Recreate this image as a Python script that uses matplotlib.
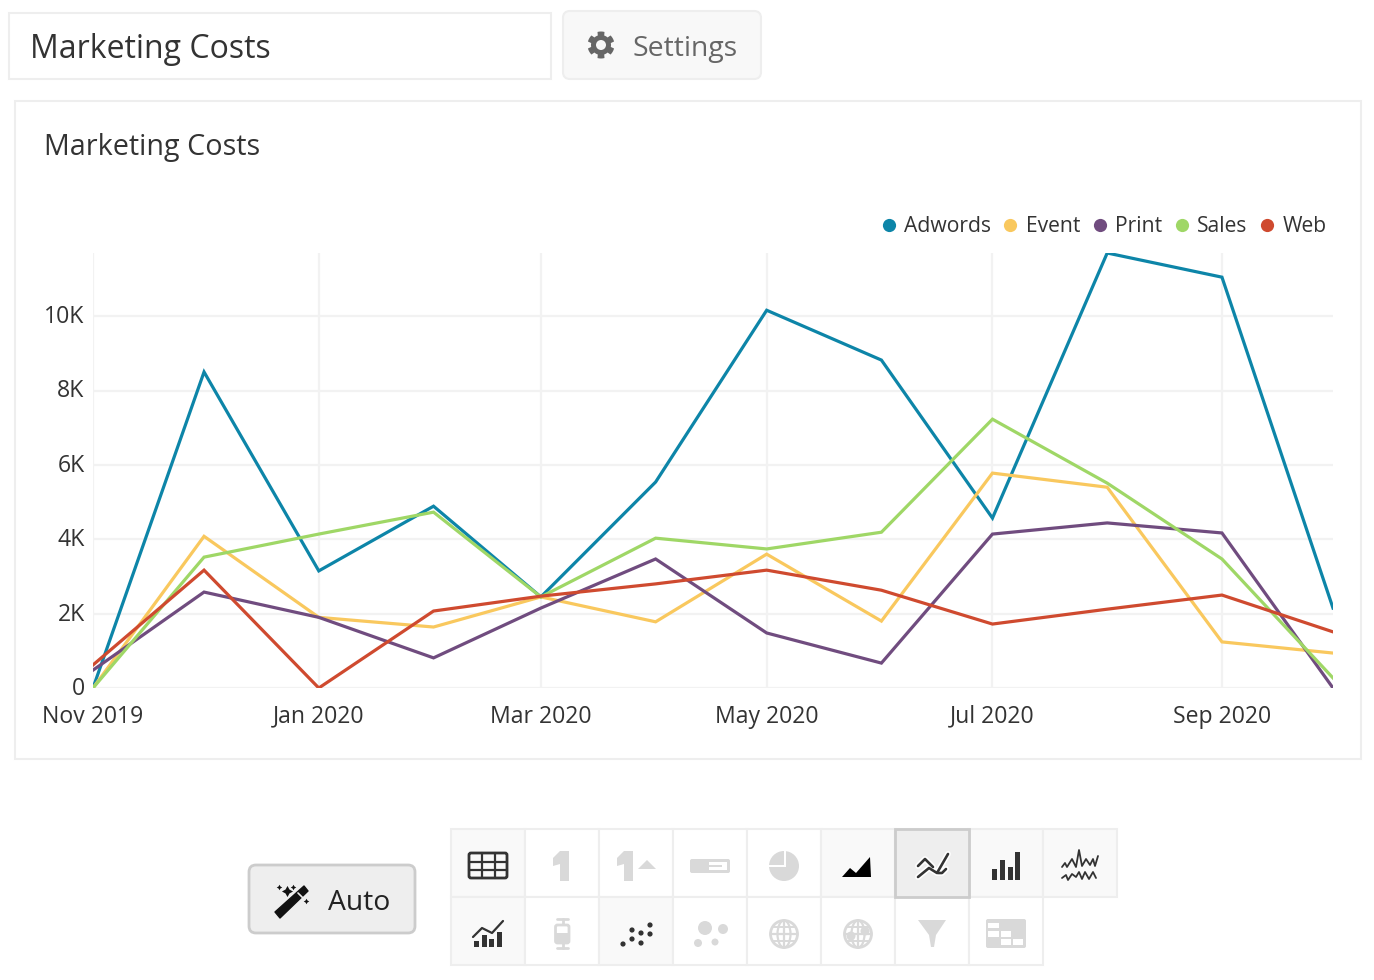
import numpy as np
import pandas as pd
import matplotlib
matplotlib.use("Agg")
import matplotlib.pyplot as plt
import matplotlib.dates as mdates
from matplotlib.lines import Line2D
from matplotlib.patches import Rectangle, FancyBboxPatch, Polygon, Circle, Ellipse
from matplotlib.ticker import FuncFormatter
from matplotlib.transforms import ScaledTranslation

plt.rcParams["font.family"] = ["Open Sans", "DejaVu Sans"]

# ---- DATA ----
months = pd.date_range("2019-11-01", "2020-10-01", freq="MS")
adwords = [0, 8500, 3150, 4890, 2450, 5540, 10160, 8820, 4570, 11700, 11050, 2150]
event = [0, 4080, 1900, 1640, 2450, 1780, 3600, 1800, 5780, 5400, 1240, 940]
printed = [480, 2580, 1900, 810, 2150, 3470, 1480, 670, 4140, 4440, 4170, 0]
sales = [0, 3520, 4140, 4730, 2450, 4030, 3740, 4190, 7230, 5510, 3470, 270]
web = [620, 3170, 0, 2070, 2470, 2800, 3170, 2630, 1720, 2120, 2500, 1510]
series_names = ["Adwords", "Event", "Print", "Sales", "Web"]
series_colors = ["#0d85a8", "#f9c85e", "#704c7f", "#9fd766", "#cf4a2f"]
y_ticks = [0, 2000, 4000, 6000, 8000, 10000]

W, H = 1374, 980
TEXT = "#333333"
BORDER = "#eeeeee"
ICON_ON = "#333333"
ICON_OFF = "#d9d9d9"

fig = plt.figure(figsize=(W / 100, H / 100), dpi=100, facecolor="white")

# ---- page furniture, in pixel coordinates ----
ui = fig.add_axes([0, 0, 1, 1], zorder=0)
ui.set_xlim(0, W)
ui.set_ylim(H, 0)
ui.axis("off")


def rounded(x0, y0, x1, y1, r, fc, ec, lw=1.5, z=2):
    ui.add_patch(FancyBboxPatch((x0 + r, y0 + r), x1 - x0 - 2 * r, y1 - y0 - 2 * r,
                                boxstyle=f"round,pad={r},rounding_size={r}",
                                fc=fc, ec=ec, lw=lw, zorder=z))


def rect(x0, y0, x1, y1, fc, ec="none", lw=0, z=2):
    ui.add_patch(Rectangle((x0, y0), x1 - x0, y1 - y0, fc=fc, ec=ec, lw=lw, zorder=z))


def stroke(xs, ys, color, lw=2.0, z=3):
    ui.plot(xs, ys, color=color, lw=lw, zorder=z, solid_capstyle="round",
            solid_joinstyle="round")


rect(9, 13, 551, 79, "white", BORDER, 1.5)
ui.text(30, 46, "Marketing Costs", fontsize=23, color=TEXT, va="center_baseline")

rounded(563, 11, 761, 79, 7, "#f8f8f8", BORDER)
ui.text(633, 45.5, "Settings", fontsize=20.4, color="#666666", va="center_baseline")
# gear
ang = np.linspace(0, 2 * np.pi, 97)[:-1]
rad = np.where(np.cos(6 * ang) > -0.1, 13.5, 10.0)
ui.add_patch(Polygon(np.c_[601 + rad * np.cos(ang + np.pi / 2), 45 + rad * np.sin(ang + np.pi / 2)],
                     fc="#666666", ec="none", zorder=3))
ui.add_patch(Circle((601, 45), 5, fc="#f8f8f8", ec="none", zorder=4))

rect(15, 101, 1361, 759, "white", BORDER, 1.5, z=1)
ui.text(44.5, 144, "Marketing Costs", fontsize=20.7, color=TEXT, va="center_baseline")

# Auto button
rounded(249, 865, 415, 933, 7, "#eeeeee", "#cccccc", 2)
ui.text(328, 899, "Auto", fontsize=20.3, color="#222222", va="center_baseline")
ui.add_patch(Polygon([(275, 912), (304, 886), (308, 891), (280, 918)], fc="#111111",
                     ec="#111111", lw=1, joinstyle="round", zorder=3))
stroke([298, 303], [893, 898], "#eeeeee", 1.2, 4)
for sx, sy, sz in [(287, 891, 8), (279, 887, 4), (293, 887, 4), (306, 901, 4)]:
    ui.plot(sx, sy, marker=(4, 1, 0), ms=sz, color="#111111", mew=0, zorder=3)

# chart type grid
cell_x = [451, 525, 599, 673, 747, 821, 895, 969, 1043, 1117]
cell_y = [829, 897, 965]
active = {(0, 0), (5, 0), (7, 0), (8, 0), (0, 1), (2, 1)}
for row, n_cells in enumerate([9, 8]):
    for col in range(n_cells):
        fc = "#f9f9f9" if (col, row) in active else "white"
        rect(cell_x[col], cell_y[row], cell_x[col + 1], cell_y[row + 1], fc, BORDER, 1.5, z=1)
rect(895, 829, 969, 897, "#eeeeee", "#cccccc", 2, z=1.5)

# table
rounded(469, 853, 507, 878, 2, "none", ICON_ON, 2)
for gx in [481.5, 494.5]:
    stroke([gx, gx], [853, 878], ICON_ON, 1.6)
for gy in [861.5, 869.5]:
    stroke([469, 507], [gy, gy], ICON_ON, 1.6)

# big number, number + trend
for dx in [0, 64]:
    ui.add_patch(Polygon([(560 + dx, 851), (569 + dx, 851), (569 + dx, 881), (560 + dx, 881),
                          (560 + dx, 864), (553 + dx, 866), (553 + dx, 858)], fc=ICON_OFF, zorder=3))
ui.add_patch(Polygon([(638, 869), (656, 869), (647, 860)], fc=ICON_OFF, zorder=3))

# gauge
rounded(690, 859, 730, 873, 2, ICON_OFF, "none", 0)
rect(709, 862, 727, 870, "white", z=3)
rect(709, 865, 722, 867, ICON_OFF, z=4)

# pie
ui.add_patch(Circle((784, 866), 15, fc=ICON_OFF, zorder=3))
rect(783.5, 850, 785.5, 866.5, "white", z=4)
rect(768, 864.5, 785.5, 866.5, "white", z=4)

# area
ui.add_patch(Polygon([(842, 877), (850, 868), (856, 873), (870, 857), (871, 877)],
                     fc="black", zorder=3))

# line
line_a = ([918, 925, 933], [866, 859, 867])
line_b = ([918, 929, 937, 948], [877, 868, 873, 854])
line_c = ([938, 942, 946], [873, 873, 869])
for xs, ys in [line_a, line_b, line_c]:
    stroke(xs, ys, "white", 4.2, 3)
for xs, ys in [line_a, line_b, line_c]:
    stroke(xs, ys, ICON_ON, 1.9, 4)

# bars
for bx, btop in [(992, 869), (1000, 860), (1008, 867), (1015, 852)]:
    rect(bx, btop, bx + 5, 880, ICON_ON, z=3)

# sparklines
stroke([1062, 1065, 1067, 1072, 1076, 1079, 1082, 1086, 1090, 1093, 1095, 1098],
       [867, 863, 867, 859, 867, 850, 866, 859, 865, 859, 866, 856], ICON_ON, 1.3)
stroke([1062, 1066, 1068, 1072, 1076, 1079, 1082, 1085, 1089, 1093, 1096],
       [878, 875, 880, 874, 877, 872, 879, 872, 879, 872, 878], ICON_ON, 1.3)

# combo
for bx, btop in [(474, 941), (482, 935), (489, 939), (497, 932)]:
    rect(bx, btop, bx + 5, 947, ICON_ON, z=3)
stroke([473, 482, 492, 503], [937, 928, 933, 921], ICON_ON, 1.6)

# box plot
stroke([557, 568], [919, 919], ICON_OFF, 2)
stroke([557, 568], [948, 948], ICON_OFF, 2)
stroke([562.5, 562.5], [919, 925], ICON_OFF, 2)
stroke([562.5, 562.5], [943, 948], ICON_OFF, 2)
rounded(555.5, 925, 569, 943, 2, "white", ICON_OFF, 2, z=3)
rect(555.5, 933, 569, 943, ICON_OFF, z=3.5)

# scatter
for px, py in [(623, 944), (632, 930), (632, 939), (641, 933), (641, 943), (650, 925), (650, 934)]:
    ui.add_patch(Circle((px, py), 2.6, fc=ICON_ON, zorder=3))

# bubble
for px, py, pr in [(705, 928, 7), (723, 929, 5), (698, 943, 4), (715, 942, 3.5)]:
    ui.add_patch(Circle((px, py), pr, fc=ICON_OFF, zorder=3))

# globes
for gx in [784, 858]:
    ui.add_patch(Circle((gx, 934), 13.5, fc="white", ec=ICON_OFF, lw=2, zorder=3))
    ui.add_patch(Ellipse((gx, 934), 13, 27, fc="none", ec=ICON_OFF, lw=1.6, zorder=3))
    stroke([gx, gx], [921, 947], ICON_OFF, 1.6)
    stroke([gx - 13, gx + 13], [934, 934], ICON_OFF, 1.6)
    stroke([gx - 11, gx + 11], [927, 927], ICON_OFF, 1.4)
    stroke([gx - 11, gx + 11], [941, 941], ICON_OFF, 1.4)
for px, py, pr in [(851, 936, 4.5), (865, 931, 4.5)]:
    ui.add_patch(Circle((px, py), pr, fc=ICON_OFF, zorder=4))

# funnel
ui.add_patch(Polygon([(918, 920), (946, 920), (936, 935), (934, 947), (931, 947), (929, 935)],
                     fc=ICON_OFF, zorder=3))

# heatmap
rounded(986, 919, 1026, 948, 2, ICON_OFF, "none", 0)
for x0, y0, x1, y1 in [(988, 923, 999, 928), (988, 931, 999, 937), (1001, 931, 1011, 937),
                       (1001, 939, 1011, 945), (1013, 939, 1023, 945)]:
    rect(x0, y0, x1, y1, "white", z=3)

# ---- CHART ----
left, right, top, bottom = 93, 1333, 253, 688
ax = fig.add_axes([left / W, 1 - bottom / H, (right - left) / W, (bottom - top) / H], zorder=1)
ax.patch.set_alpha(0)

all_series = [adwords, event, printed, sales, web]
for values, name, color in zip(all_series, series_names, series_colors):
    ax.plot(months, values, color=color, lw=2.3, label=name, solid_joinstyle="miter", zorder=3)

ax.set_xlim(months[0], months[-1])
ax.set_ylim(0, 11700)
ax.set_yticks(y_ticks)
ax.yaxis.set_major_formatter(FuncFormatter(lambda v, p: "0" if v == 0 else f"{v / 1000:.0f}K"))
ax.xaxis.set_major_locator(mdates.MonthLocator(bymonth=[1, 3, 5, 7, 9, 11]))
ax.xaxis.set_major_formatter(mdates.DateFormatter("%b %Y"))
ax.grid(True, color="#f2f2f2", lw=1.6, zorder=0)
ax.set_axisbelow(True)
ax.tick_params(length=0, labelsize=16.6, labelcolor=TEXT)
ax.tick_params(axis="x", pad=12)
ax.tick_params(axis="y", pad=6)
for side in ax.spines:
    ax.spines[side].set_visible(False)

# y labels sit a little above their grid lines
nudge = ScaledTranslation(0, 1.5 / 72, fig.dpi_scale_trans)
for label in ax.get_yticklabels():
    label.set_transform(label.get_transform() + nudge)

handles = [Line2D([], [], ls="none", marker="o", ms=9.5, color=c, mew=0) for c in series_colors]
ax.legend(handles, series_names, ncol=5, frameon=False, fontsize=15.2, labelcolor=TEXT,
          loc="lower right", bbox_to_anchor=(1.0077, 1.0), borderaxespad=0, borderpad=0.75,
          handletextpad=0.15, columnspacing=0.3, handlelength=1.2)

fig.savefig("out.png", dpi=100)
